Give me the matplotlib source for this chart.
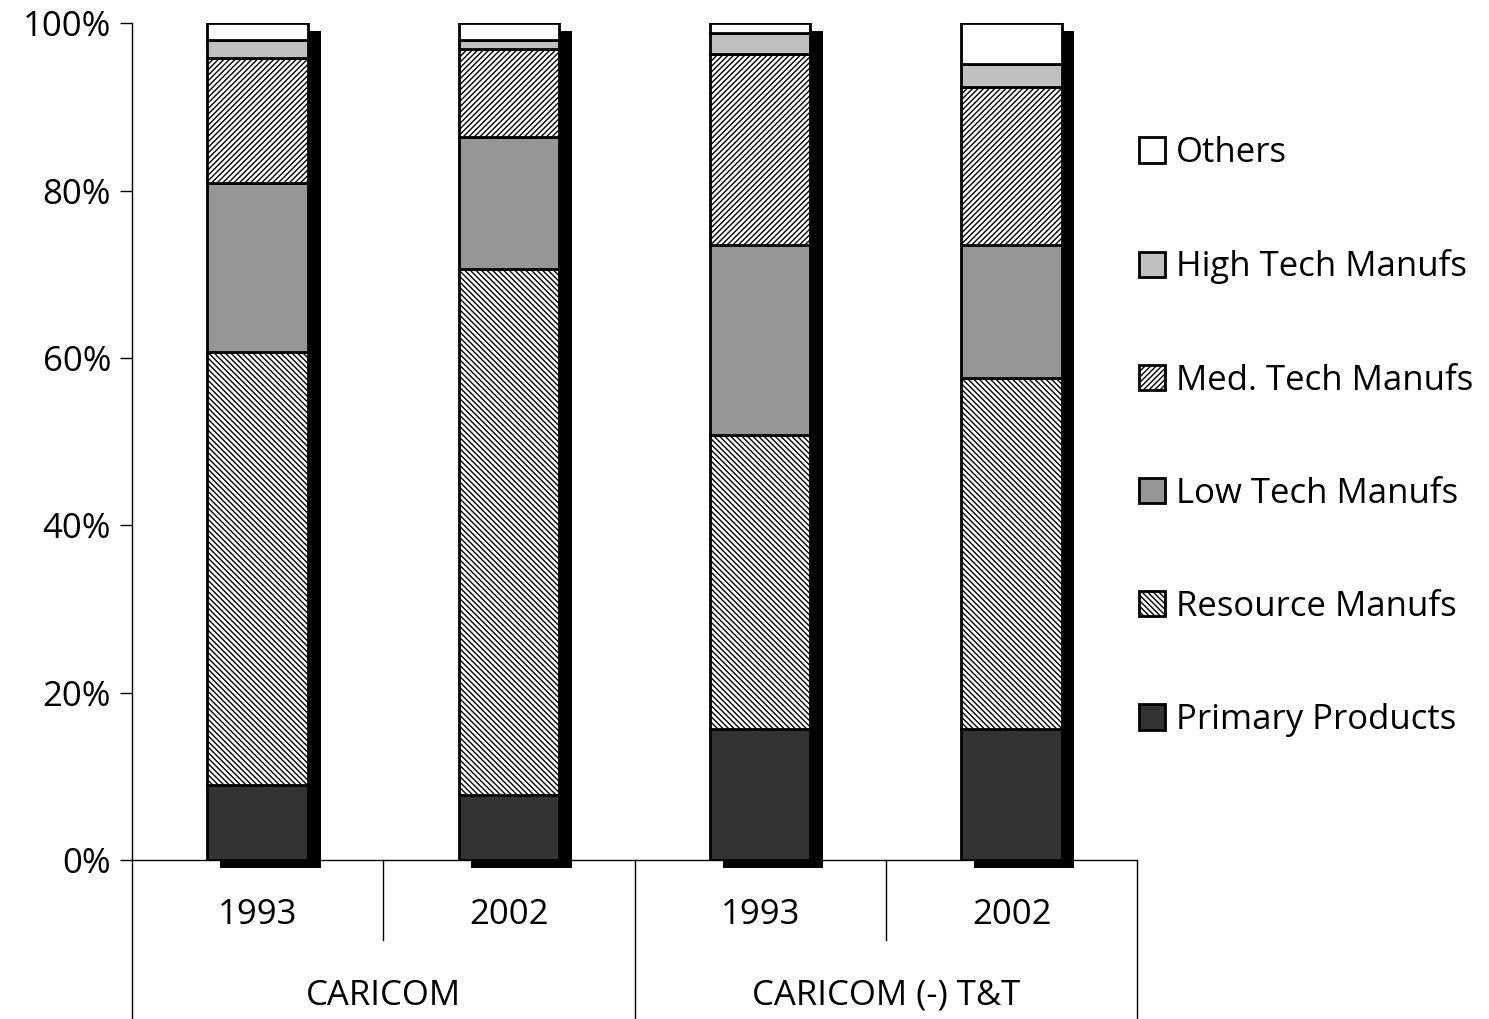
import numpy as np
import matplotlib
matplotlib.use("Agg")
import matplotlib.pyplot as plt
from matplotlib.patches import Patch
import matplotlib.transforms as mtransforms

plt.rcParams['font.family'] = ['Open Sans', 'DejaVu Sans']
plt.rcParams['hatch.linewidth'] = 1.0

# data (shares of exports, %)
years = ['1993', '2002', '1993', '2002']
groups = ['CARICOM', 'CARICOM (-) T&T']
series = ['Primary Products', 'Resource Manufs', 'Low Tech Manufs',
          'Med. Tech Manufs', 'High Tech Manufs', 'Others']
primary = [9.0, 7.8, 15.7, 15.7]
resource = [51.7, 62.8, 35.1, 41.9]
low_tech = [20.2, 15.8, 22.7, 15.9]
med_tech = [15.0, 10.5, 22.9, 18.9]
high_tech = [2.1, 1.1, 2.4, 2.8]
others = [2.0, 2.0, 1.2, 4.8]

values = [primary, resource, low_tech, med_tech, high_tech, others]
colors = ['#333333', 'white', '#969696', 'white', '#c0c0c0', 'white']
hatches = [None, '\\' * 6, None, '/' * 6, None, None]

FS = 25

fig = plt.figure(figsize=(14.89, 10.19), dpi=100)
ax = fig.add_axes([0.0887, 0.156, 0.675, 0.821])

x = np.arange(len(years))
width = 0.40

# drop shadow behind each bar
totals = np.sum(values, axis=0)
ax.bar(x + 0.05, totals, width, bottom=-0.95, color='black',
       linewidth=0, zorder=1, clip_on=False)

bottom = np.zeros(len(years))
for vals, col, hat, name in zip(values, colors, hatches, series):
    ax.bar(x, vals, width, bottom=bottom, color=col, hatch=hat,
           edgecolor='black', linewidth=2, zorder=2, label=name)
    bottom += np.array(vals)

ax.set_xlim(-0.5, 3.5)
ax.set_ylim(0, 100)
ax.set_yticks(np.arange(0, 101, 20))
ax.set_yticklabels([f'{v}%' for v in range(0, 101, 20)], fontsize=FS)
ax.tick_params(axis='y', length=9, width=1, pad=6)
ax.set_xticks([])

for s in ['top', 'right']:
    ax.spines[s].set_visible(False)
ax.spines['left'].set_linewidth(1)
ax.spines['bottom'].set_linewidth(1)

# multi-level category axis
trans = mtransforms.blended_transform_factory(ax.transData, ax.transAxes)
for xi in [-0.5, 1.5, 3.5]:
    ax.plot([xi, xi], [0, -0.19], color='black', lw=1, transform=trans,
            clip_on=False)
for xi in [0.5, 2.5]:
    ax.plot([xi, xi], [0, -0.096], color='black', lw=1, transform=trans,
            clip_on=False)
for xi, yr in zip(x, years):
    ax.text(xi, -0.066, yr, transform=trans, ha='center', va='center',
            fontsize=FS)
for xi, g in zip([0.5, 2.5], groups):
    ax.text(xi, -0.162, g, transform=trans, ha='center', va='center',
            fontsize=FS)

handles = [Patch(facecolor=c, edgecolor='black', hatch=h, linewidth=2)
           for c, h in zip(colors, hatches)]
ax.legend(handles[::-1], series[::-1], loc='center left',
          bbox_to_anchor=(0.7535, 0.5715), bbox_transform=fig.transFigure,
          frameon=False, fontsize=FS, handlelength=0.75, handleheight=0.75,
          handletextpad=0.3, labelspacing=2.28, borderpad=0)

fig.savefig('out.png', dpi=100)
